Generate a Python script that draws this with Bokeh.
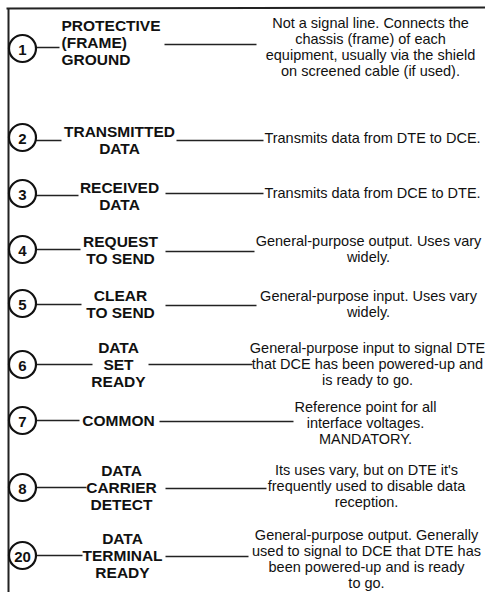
from bokeh.plotting import figure
from bokeh.models import Range1d, ColumnDataSource
from bokeh.core.properties import value
from bokeh.embed import file_html
from bokeh.resources import INLINE

# ---- content ----
pins = ["1", "2", "3", "4", "5", "6", "7", "8", "20"]
names = [
    ["PROTECTIVE", "(FRAME)", "GROUND"],
    ["TRANSMITTED", "DATA"],
    ["RECEIVED", "DATA"],
    ["REQUEST", "TO SEND"],
    ["CLEAR", "TO SEND"],
    ["DATA", "SET", "READY"],
    ["COMMON"],
    ["DATA", "CARRIER", "DETECT"],
    ["DATA", "TERMINAL", "READY"],
]
descriptions = [
    ["Not a signal line. Connects the", "chassis (frame) of each",
     "equipment, usually via the shield", "on screened cable (if used)."],
    ["Transmits data from DTE to DCE."],
    ["Transmits data from DCE to DTE."],
    ["General-purpose output. Uses vary", "widely."],
    ["General-purpose input. Uses vary", "widely."],
    ["General-purpose input to signal DTE", "that DCE has been powered-up and",
     "is ready to go."],
    ["Reference point for all", "interface voltages.", "MANDATORY."],
    ["Its uses vary, but on DTE it's", "frequently used to disable data",
     "reception."],
    ["General-purpose output. Generally", "used to signal to DCE that DTE has",
     "been powered-up and is ready", "to go."],
]

# ---- layout (pixel positions of the diagram) ----
circle_x = 22
circle_y = [48, 137, 193, 249, 303, 364, 420, 487, 555]
name_y0 = [25, 131, 187, 241, 295, 347, 420, 470, 538]
name_x = [61, 119, 119, 120, 120, 118, 118, 121, 122]
name_align = ["left"] + ["center"] * 8
desc_y0 = [22, 137, 192, 240, 295, 347, 406, 469, 534]
desc_steps = [16.3, 16.3, 16.3, 16.3, 16.3, 16.3, 16.3, 16.3, 16.0]
desc_x = [370, 372, 372, 368, 368, 367, 365, 366, 366]
left_seg = [(35, 59, 47), (35, 61, 140), (35, 78, 195), (35, 80, 249), (35, 81, 304),
            (35, 92, 364), (35, 79, 420), (35, 86, 487), (35, 82, 555)]
right_seg = [(164, 256, 44), (176, 263, 140), (165, 263, 193), (165, 254, 251),
             (165, 256, 305), (148, 252, 364), (159, 293, 421), (165, 266, 488),
             (165, 248, 556)]
NAME_STEP = 17

W, H = 485, 592
p = figure(width=W, height=H, output_backend="svg", toolbar_location=None,
           x_range=Range1d(0, W), y_range=Range1d(H, 0),
           min_border=0, outline_line_color=None)
p.axis.visible = False
p.grid.visible = False
p.background_fill_color = "white"

# frame
p.segment(x0=[8, 6], y0=[8, 8], x1=[8, 490], y1=[598, 7], line_color="#222222", line_width=2)

# connector lines
p.segment(x0=[s[0] for s in left_seg], y0=[s[2] for s in left_seg],
          x1=[s[1] for s in left_seg], y1=[s[2] for s in left_seg],
          line_color="#222222", line_width=1.6)
p.segment(x0=[s[0] for s in right_seg], y0=[s[2] for s in right_seg],
          x1=[s[1] for s in right_seg], y1=[s[2] for s in right_seg],
          line_color="#222222", line_width=1.6)

# circles with pin numbers
p.scatter(x=[circle_x] * len(pins), y=circle_y, size=27, marker="circle",
          fill_color="white", line_color="#111111", line_width=2.2)
p.text(x=[circle_x] * len(pins), y=[cy + 1 for cy in circle_y], text=pins,
       text_font=value("Liberation Sans"), text_font_style="bold",
       text_font_size="15px", text_align="center", text_baseline="middle",
       text_color="#111111")

# names
nx, ny, nt, na = [], [], [], []
for i, lines in enumerate(names):
    for j, t in enumerate(lines):
        nx.append(name_x[i]); ny.append(name_y0[i] + j * NAME_STEP); nt.append(t)
        na.append(name_align[i])
src_n = ColumnDataSource(dict(x=nx, y=ny, t=nt, a=na))
p.text(x="x", y="y", text="t", text_align="a", source=src_n,
       text_font=value("Liberation Sans"), text_font_style="bold",
       text_font_size="15.5px", text_baseline="middle", text_color="#111111")

# descriptions
dx, dy, dt = [], [], []
for i, lines in enumerate(descriptions):
    for j, t in enumerate(lines):
        dx.append(desc_x[i]); dy.append(desc_y0[i] + j * desc_steps[i]); dt.append(t)
p.text(x=dx, y=dy, text=dt, text_font=value("Liberation Sans"),
       text_font_size="14.5px", text_align="center", text_baseline="middle",
       text_color="#111111")

open("out.html", "w").write(file_html(p, INLINE))
